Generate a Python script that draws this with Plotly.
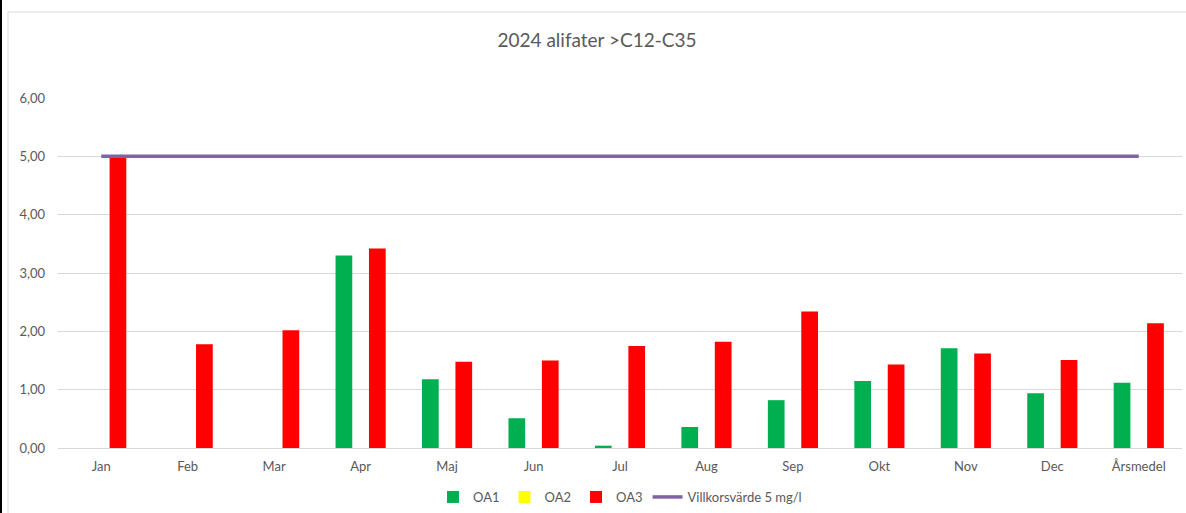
import plotly.graph_objects as go

categories = ["Jan", "Feb", "Mar", "Apr", "Maj", "Jun", "Jul", "Aug", "Sep", "Okt", "Nov", "Dec", "Årsmedel"]
oa1 = [None, None, None, 3.30, 1.18, 0.51, 0.04, 0.36, 0.82, 1.15, 1.71, 0.94, 1.12]
oa2 = [None] * 13
oa3 = [4.97, 1.78, 2.02, 3.42, 1.48, 1.50, 1.75, 1.82, 2.34, 1.43, 1.62, 1.51, 2.14]
limit = [5.0] * 13

FONT = "Lato, Calibri, 'Open Sans', sans-serif"
GRAY = "#595959"

fig = go.Figure()
fig.add_bar(x=categories, y=oa1, name="OA1", marker=dict(color="#00B050", line=dict(width=0)))
fig.add_bar(x=categories, y=oa2, name="OA2", marker=dict(color="#FFFF00", line=dict(width=0)))
fig.add_bar(x=categories, y=oa3, name="OA3", marker=dict(color="#FF0000", line=dict(width=0)))
fig.add_scatter(x=categories, y=limit, name="Villkorsvärde 5 mg/l", mode="lines",
                line=dict(color="#8064A2", width=3.5))

W, H = 1186, 513
L, R, T, B = 58, 4, 98, 65
pw, ph = W - L - R, H - T - B

def px(x):
    return (x - L) / pw

def py(y):
    return (H - B - y) / ph

shapes = [
    dict(type="rect", xref="paper", yref="paper", x0=px(8), x1=px(1200), y0=py(12), y1=py(530),
         line=dict(color="#D9D9D9", width=1), fillcolor="rgba(0,0,0,0)", layer="below"),
    dict(type="rect", xref="paper", yref="paper", x0=px(-1), x1=px(2), y0=py(-5), y1=py(520),
         line=dict(width=0), fillcolor="black", layer="above"),
]

fig.update_layout(
    width=W, height=H,
    margin=dict(l=L, r=R, t=T, b=B, autoexpand=False),
    paper_bgcolor="white", plot_bgcolor="white",
    separators=", ",
    barmode="group", bargap=0.42, bargroupgap=0,
    title=dict(text="2024 alifater >C12-C35", x=(597) / W, xanchor="center",
               y=1 - 40 / H, yanchor="middle",
               font=dict(family=FONT, size=19, color=GRAY)),
    font=dict(family=FONT, size=13, color=GRAY),
    xaxis=dict(showgrid=False, showline=True, linecolor="#D9D9D9", linewidth=1, automargin=False,
               ticks="", tickfont=dict(size=13, color=GRAY), ticklabelstandoff=6),
    yaxis=dict(range=[0, 6], dtick=1, tickformat=".2f", showgrid=True, gridcolor="#D9D9D9",
               gridwidth=1, zeroline=False, showline=False, ticks="", automargin=False,
               tickfont=dict(size=13, color=GRAY), ticklabelstandoff=12),
    legend=dict(orientation="h", x=0.5, xanchor="center", y=py(497), yanchor="middle",
                font=dict(size=13, color=GRAY), itemwidth=30),
    shapes=shapes,
)

fig.write_html("out.html", config={"displayModeBar": False},
               post_script="document.body.style.margin='0';document.body.style.overflow='hidden';")
